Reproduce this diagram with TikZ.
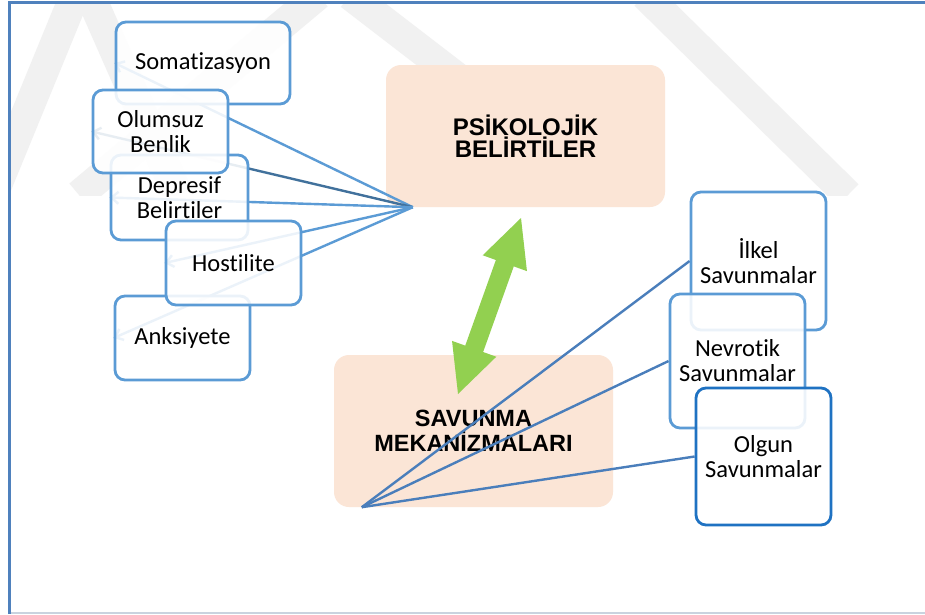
\documentclass[tikz,border=0pt]{standalone}
\usepackage{fontspec}
\setmainfont{Carlito}[Ligatures=NoCommon]
\newfontfamily\titlefont{Liberation Sans}
\usetikzlibrary{arrows.meta,calc}
\definecolor{boxblue}{HTML}{5B9BD5}
\definecolor{darkblue}{HTML}{41719C}
\definecolor{lineR}{HTML}{4A7EBB}
\definecolor{olgunblue}{HTML}{1F72C2}
\definecolor{peach}{HTML}{FBE5D6}
\definecolor{arrowgreen}{HTML}{92D050}
\definecolor{frameblue}{HTML}{4F81BD}
\definecolor{framelight}{HTML}{C9D3DF}
\definecolor{wmgray}{HTML}{F1F1F1}
\pgfdeclarelayer{bg}
\pgfdeclarelayer{lines}
\pgfdeclarelayer{top}
\pgfsetlayers{bg,lines,main,top}
\begin{document}
\begin{tikzpicture}[x=1pt,y=-1pt,
  bluebox/.style={draw=boxblue, line width=2.8pt, rounded corners=10pt,
    fill=white, fill opacity=0.88, text opacity=1, inner sep=0pt,
    align=center, font=\fontsize{24.5}{25}\selectfont},
  peachbox/.style={fill=peach, rounded corners=15pt, inner sep=0pt,
    align=center},
  lconn/.style={draw=boxblue, line width=2.4pt,
    -{Straight Barb[length=7pt,width=12pt]}},
  rconn/.style={draw=lineR, line width=2.4pt},
  wmband/.style={draw=wmgray, line width=30pt, line cap=butt}]
\useasboundingbox (0,0) rectangle (925,614);

\begin{pgfonlayer}{bg}
  \fill[white] (0,0) rectangle (925,614);
  \begin{scope}
    \clip (11,4) rectangle (925,195);
    \draw[wmband] (75,-5) -- (-5,190);
    \draw[wmband] (90,-5) -- (178,195);
    \draw[wmband] (318,-5) -- (79,195);
    \draw[wmband] (350,-5) -- (610,195);
    \draw[wmband] (645,-5) -- (848,195);
  \end{scope}
  \draw[frameblue, line width=2.5pt] (9.5,614) -- (9.5,2.5) -- (925,2.5);
  \draw[framelight, line width=1.5pt] (10.5,613) -- (925,613);
  \node[peachbox, minimum width=279pt, minimum height=142pt,
        font=\titlefont\bfseries\fontsize{24}{22}\selectfont]
        (psik) at (525.5,136) {PSİKOLOJİK\\BELİRTİLER};
  \node[peachbox, minimum width=279pt, minimum height=152pt,
        font=\titlefont\bfseries\fontsize{23.5}{25}\selectfont]
        (savu) at (473.5,431) {SAVUNMA\\MEKANİZMALARI};
\end{pgfonlayer}

% left boxes
\node[bluebox, minimum width=174pt, minimum height=82pt] (soma) at (203,63) {Somatizasyon};
\node[bluebox, minimum width=137pt, minimum height=85pt] (depr) at (179.5,197.5) {Depresif\\Belirtiler};
\node[bluebox, minimum width=135pt, minimum height=83pt] (olum) at (160.5,131.5) {Olumsuz\\Benlik};
\node[bluebox, minimum width=135pt, minimum height=84pt] (anks) at (182.5,338) {Anksiyete};
\node[bluebox, minimum width=135pt, minimum height=84pt] (host) at (233.5,263) {Hostilite};

% right boxes
\node[bluebox, minimum width=135pt, minimum height=138pt] (ilkel) at (758.5,261) {İlkel\\Savunmalar};
\node[bluebox, minimum width=135pt, minimum height=134pt] (nevr) at (737.5,361) {Nevrotik\\Savunmalar};
\node[bluebox, draw=olgunblue, minimum width=135pt, minimum height=137pt] (olgun) at (763.5,456.5) {Olgun\\Savunmalar};

\coordinate (hubL) at ($(psik.south west)+(27,0)$);
\coordinate (hubR) at ($(savu.south west)+(28,0)$);

\begin{pgfonlayer}{lines}
  \draw[lconn] (hubL) -- (soma.west);
  \draw[lconn, draw=darkblue] (hubL) -- (olum.west);
  \draw[lconn] (hubL) -- (depr.west);
  \draw[lconn] (hubL) -- (host.west);
  \draw[lconn] (hubL) -- (anks.west);
  \draw[rconn] (hubR) -- (ilkel.west);
  \draw[rconn] (hubR) -- (nevr.west);
  \draw[rconn] (hubR) -- (olgun.west);
\end{pgfonlayer}

\begin{pgfonlayer}{top}
  \coordinate (gT) at (521,218);
  \coordinate (gB) at (458,394);
  \coordinate (hT) at ($(gT)!48pt!(gB)$);
  \coordinate (hB) at ($(gB)!48pt!(gT)$);
  \fill[arrowgreen] (gT)
    -- ($(hT)!23.5pt!90:(gT)$) -- ($(hT)!9.5pt!90:(gT)$)
    -- ($(hB)!9.5pt!90:(gT)$) -- ($(hB)!23.5pt!90:(gT)$)
    -- (gB)
    -- ($(hB)!23.5pt!-90:(gT)$) -- ($(hB)!9.5pt!-90:(gT)$)
    -- ($(hT)!9.5pt!-90:(gT)$) -- ($(hT)!23.5pt!-90:(gT)$)
    -- cycle;
\end{pgfonlayer}
\end{tikzpicture}
\end{document}
